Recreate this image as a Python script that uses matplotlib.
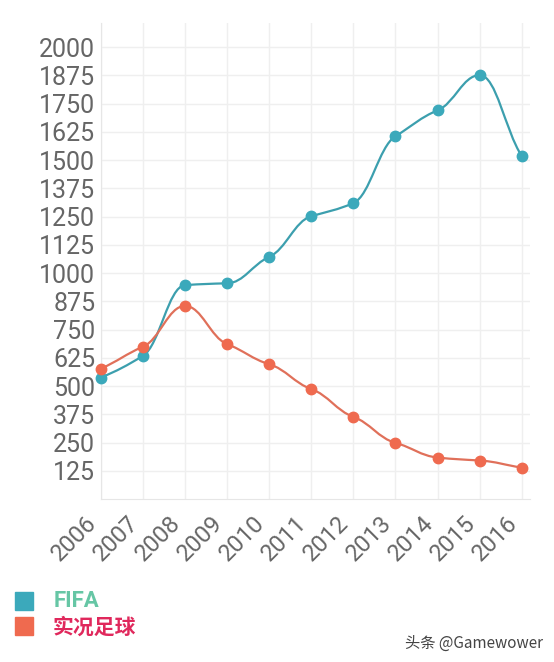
import numpy as np
import matplotlib
matplotlib.use("Agg")
from matplotlib import pyplot as plt
from matplotlib.path import Path
from matplotlib.patches import PathPatch, Rectangle
from matplotlib.transforms import ScaledTranslation

years = [2006, 2007, 2008, 2009, 2010, 2011, 2012, 2013, 2014, 2015, 2016]
fifa = [538, 634, 947, 955, 1072, 1252, 1310, 1606, 1720, 1876, 1518]
pes = [578, 674, 855, 686, 597, 487, 364, 249, 184, 171, 140]
y_ticks = [125, 250, 375, 500, 625, 750, 875, 1000, 1125, 1250, 1375,
           1500, 1625, 1750, 1875, 2000]
series_names = ["FIFA", "实况足球"]

c_fifa = "#3ba9bb"
c_fifa_line = "#3c9fae"
c_pes = "#ef6a4f"
c_pes_line = "#e0705a"
tick_col = "#666666"
grid_col = "#efefef"


def smooth_path(xs, ys, flat=0.55, flat_end=0.8, handle=0.4):
    """ monotone (Fritsch-Carlson) tangents, softened, drawn as bezier segments """
    xs = np.asarray(xs, float)
    ys = np.asarray(ys, float)
    n = len(xs)
    dk = np.diff(ys) / np.diff(xs)
    m = np.zeros(n)
    m[0], m[-1] = dk[0], dk[-1]
    for i in range(1, n - 1):
        if dk[i - 1] == 0 or dk[i] == 0 or np.sign(dk[i - 1]) != np.sign(dk[i]):
            m[i] = 0
        else:
            m[i] = (dk[i - 1] + dk[i]) / 2
    for i in range(n - 1):
        if dk[i] == 0:
            m[i] = m[i + 1] = 0
            continue
        a = m[i] / dk[i]
        b = m[i + 1] / dk[i]
        s = a * a + b * b
        if s > 9:
            tau = 3 / np.sqrt(s)
            m[i] = a * tau * dk[i]
            m[i + 1] = b * tau * dk[i]
    m[1:-1] *= flat
    m[0] *= flat_end
    m[-1] *= flat_end
    verts = [(xs[0], ys[0])]
    codes = [Path.MOVETO]
    for i in range(n - 1):
        dx = (xs[i + 1] - xs[i]) * handle
        verts += [(xs[i] + dx, ys[i] + m[i] * dx),
                  (xs[i + 1] - dx, ys[i + 1] - m[i + 1] * dx),
                  (xs[i + 1], ys[i + 1])]
        codes += [Path.CURVE4] * 3
    return Path(verts, codes)


plt.rcParams['font.family'] = ['Roboto', 'DejaVu Sans']

fig = plt.figure(figsize=(5.54, 6.62), dpi=100)
ax = fig.add_axes([0.182, 0.246, 0.775, 0.719])
ax.set_xlim(2006, 2016.2)
ax.set_ylim(0, 2106)

ax.set_yticks(y_ticks)
ax.set_xticks(years)
ax.set_xticklabels([str(y) for y in years], rotation=45, ha='right',
                   rotation_mode='anchor', va='center')
ax.tick_params(axis='both', labelcolor=tick_col, color=grid_col, length=0)
ax.tick_params(axis='y', pad=4, labelsize=18)
ax.tick_params(axis='x', pad=15, labelsize=17)
shift = ScaledTranslation(-8 / 100, 0, fig.dpi_scale_trans)
for lab in ax.get_xticklabels():
    lab.set_transform(lab.get_transform() + shift)
ax.grid(True, color=grid_col, linewidth=1)
ax.set_axisbelow(True)
for side in ['top', 'right']:
    ax.spines[side].set_visible(False)
for side in ['left', 'bottom']:
    ax.spines[side].set_color("#e6e6e6")

for vals, col, lcol in [(fifa, c_fifa, c_fifa_line), (pes, c_pes, c_pes_line)]:
    ax.add_patch(PathPatch(smooth_path(years, vals), facecolor='none',
                           edgecolor=lcol, linewidth=1.6, zorder=3))
    ax.plot(years, vals, 'o', color=col, markersize=7.5, zorder=4, clip_on=False)

# legend
fig.patches.append(Rectangle((15 / 554, 1 - 610 / 662), 18 / 554, 18 / 662,
                             transform=fig.transFigure, color=c_fifa))
fig.patches.append(Rectangle((15 / 554, 1 - 635 / 662), 18 / 554, 18 / 662,
                             transform=fig.transFigure, color=c_pes))
fig.text(54 / 554, 1 - 601 / 662, series_names[0], fontsize=16, fontweight='bold',
         color="#66c6a5", va='center', ha='left')
fig.text(53 / 554, 1 - 627 / 662, series_names[1], fontsize=15, fontweight='bold',
         color="#e0285c", va='center', ha='left',
         family=['Noto Sans CJK SC', 'DejaVu Sans'])

fig.text(405 / 554, 1 - 643 / 662, "头条 @Gamewower", fontsize=11, color="#444444",
         va='center', ha='left', family=['Noto Sans CJK SC', 'DejaVu Sans'])

fig.savefig("out.png", dpi=100)
